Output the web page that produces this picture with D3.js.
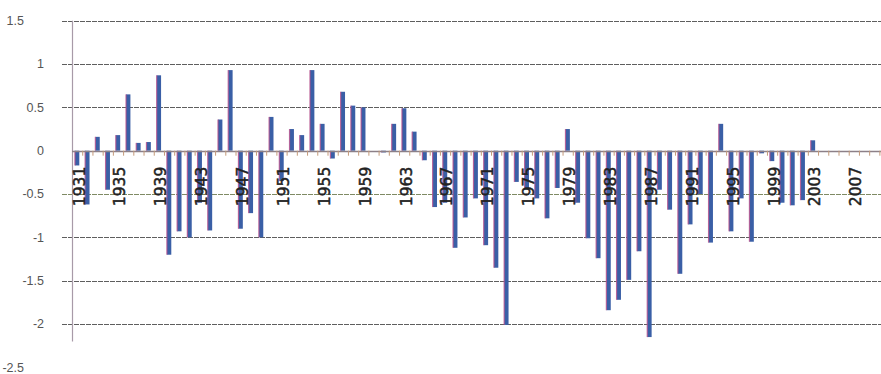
<!DOCTYPE html>
<html>
<head>
<meta charset="utf-8">
<script src="https://cdn.jsdelivr.net/npm/d3@7"></script>
<style>
  html, body { margin: 0; padding: 0; background: #fff; }
  svg { display: block; }
</style>
</head>
<body>
<svg id="chart" width="881" height="374"></svg>
<script>
// ---- data ----
const years = d3.range(1931, 2011);
const values = [
  -0.17, -0.62, 0.16, -0.45, 0.18, 0.65, 0.09, 0.10, 0.87, -1.20,   // 1931-1940
  -0.93, -1.00, -0.60, -0.92, 0.36, 0.93, -0.90, -0.72, -1.00, 0.39, // 1941-1950
  -0.35, 0.25, 0.18, 0.93, 0.31, -0.09, 0.68, 0.52, 0.50, 0.00,      // 1951-1960
  -0.02, 0.31, 0.49, 0.22, -0.11, -0.65, -0.60, -1.12, -0.77, -0.55, // 1961-1970
  -1.09, -1.35, -2.01, -0.36, -0.45, -0.55, -0.78, -0.43, 0.25, -0.60, // 1971-1980
  -1.01, -1.24, -1.84, -1.72, -1.49, -1.16, -2.15, -0.45, -0.68, -1.42, // 1981-1990
  -0.85, -0.50, -1.06, 0.31, -0.93, -0.55, -1.05, -0.03, -0.12, -0.60, // 1991-2000
  -0.63, -0.57, 0.12, 0, 0, 0, 0, 0, 0, 0                              // 2001-2010
];
const yTicks = [1.5, 1, 0.5, 0, -0.5, -1, -1.5, -2, -2.5];
const xLabelYears = d3.range(1931, 2011, 4);

// ---- layout ----
const svg = d3.select("#chart");
const x = d3.scaleBand().domain(years).range([72, 889.6]).padding(0);
const y = d3.scaleLinear().domain([-2.5, 1.5]).range([367.4, 20.7]);
const barW = 4.4;
const axisBottomVal = -2.2;

// gridlines
svg.append("g").selectAll("line")
  .data(yTicks.filter(v => v !== 0 && v !== -2.5))
  .join("line")
  .attr("x1", 62).attr("x2", 881)
  .attr("y1", d => Math.round(y(d)) + 0.5).attr("y2", d => Math.round(y(d)) + 0.5)
  .attr("stroke", d => d === -0.5 ? "#7f8a64" : "#5e5e5e")
  .attr("stroke-width", 1)
  .attr("stroke-dasharray", "5,1");

// y axis line
svg.append("line")
  .attr("x1", 72.5).attr("x2", 72.5)
  .attr("y1", y(1.5)).attr("y2", y(axisBottomVal))
  .attr("stroke", "#a89aa8").attr("stroke-width", 1.2);

// y labels
svg.append("g").selectAll("text")
  .data(yTicks)
  .join("text")
  .attr("x", d => (d === 1.5 || d === -2.5) ? 24 : 44)
  .attr("y", d => y(d))
  .attr("dy", "0.35em")
  .attr("text-anchor", "end")
  .attr("font-family", "Liberation Sans, Arial, sans-serif")
  .attr("font-size", 12.5)
  .attr("fill", "#555")
  .text(d => String(d));

// bars
const bars = svg.append("g");
const data = years.map((yr, i) => ({ yr, v: values[i] }));
bars.selectAll("rect.main")
  .data(data.filter(d => d.v !== 0))
  .join("rect")
  .attr("class", "main")
  .attr("x", d => x(d.yr) + x.bandwidth() / 2 - barW / 2)
  .attr("width", barW)
  .attr("y", d => Math.min(y(d.v), y(0)))
  .attr("height", d => Math.abs(y(d.v) - y(0)))
  .attr("fill", "#3a5fa6");
bars.selectAll("rect.edge")
  .data(data.filter(d => d.v !== 0))
  .join("rect")
  .attr("class", "edge")
  .attr("x", d => x(d.yr) + x.bandwidth() / 2 - barW / 2 - 0.6)
  .attr("width", 1.2)
  .attr("y", d => Math.min(y(d.v), y(0)))
  .attr("height", d => Math.abs(y(d.v) - y(0)))
  .attr("fill", "#b8508c")
  .attr("opacity", 0.8);

// x axis (zero line) with ticks
svg.append("line")
  .attr("x1", 72).attr("x2", 881)
  .attr("y1", Math.round(y(0)) + 0.5).attr("y2", Math.round(y(0)) + 0.5)
  .attr("stroke", "#8c8088").attr("stroke-width", 1.3);
svg.append("g").selectAll("line")
  .data(years.slice(1))
  .join("line")
  .attr("x1", d => x(d) + 0.5).attr("x2", d => x(d) + 0.5)
  .attr("y1", y(0)).attr("y2", y(0) + 5)
  .attr("stroke", "#c49a7a").attr("stroke-width", 1);

// x tick labels drawn over the bars
svg.append("g").selectAll("text")
  .data(xLabelYears)
  .join("text")
  .attr("transform", d => `translate(${x(d) + x.bandwidth() / 2 + 2},${y(0) + 16}) rotate(-90)`)
  .attr("dy", "0.35em")
  .attr("text-anchor", "end")
  .attr("font-family", "DejaVu Sans, sans-serif")
  .attr("font-size", 15.5)
  .attr("fill", "#222")
  .attr("stroke", "#222")
  .attr("stroke-width", 0.5)
  .text(d => d);
</script>
</body>
</html>
